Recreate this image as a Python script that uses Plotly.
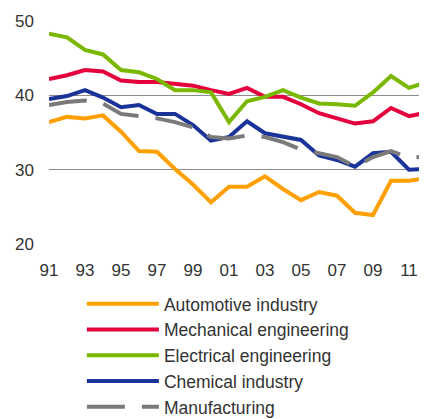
import plotly.graph_objects as go

# Years 1991-2012
years = list(range(1991, 2013))

automotive = [36.4, 37.1, 36.9, 37.3, 35.1, 32.5, 32.4, 30.1, 28.0, 25.6, 27.7,
              27.7, 29.1, 27.4, 25.9, 27.0, 26.5, 24.2, 23.9, 28.5, 28.5, 28.9]
mechanical = [42.2, 42.7, 43.4, 43.2, 42.0, 41.8, 41.8, 41.6, 41.3, 40.7, 40.2,
              41.0, 39.8, 39.8, 38.8, 37.6, 36.9, 36.2, 36.5, 38.3, 37.2, 37.7]
electrical = [48.3, 47.8, 46.1, 45.5, 43.4, 43.1, 42.2, 40.7, 40.7, 40.4, 36.4,
              39.2, 39.8, 40.7, 39.7, 38.9, 38.8, 38.6, 40.4, 42.6, 41.0, 41.8]
chemical = [39.5, 39.9, 40.7, 39.7, 38.4, 38.7, 37.5, 37.5, 36.0, 33.9, 34.4,
            36.5, 34.9, 34.5, 34.0, 31.9, 31.3, 30.4, 32.2, 32.4, 30.0, 30.1]
manufacturing = [38.7, 39.1, 39.3, 38.9, 37.5, 37.2, 36.9, 36.4, 35.7, 34.4, 34.2,
                 34.6, 34.4, 33.7, 32.7, 32.2, 31.7, 30.4, 31.7, 32.5, 31.6, 31.8]

tick_years = list(range(1991, 2012, 2))
tick_text = [str(y)[2:] for y in tick_years]

series = [
    ("Automotive industry", automotive, "#FFA000", "solid"),
    ("Mechanical engineering", mechanical, "#E4003C", "solid"),
    ("Electrical engineering", electrical, "#7AB800", "solid"),
    ("Chemical industry", chemical, "#1A3399", "solid"),
    ("Manufacturing", manufacturing, "#7A7A7A", "38px,17px"),
]

fig = go.Figure()
for name, vals, color, dash in series:
    fig.add_trace(go.Scatter(x=years, y=vals, name=name, mode="lines",
                             line=dict(color=color, width=4, dash=dash)))

# page body has an 8px margin, so the figure is a bit smaller than the window
fig.update_layout(
    width=419, height=411,
    margin=dict(l=41, r=0, t=13, b=175, autoexpand=False),
    paper_bgcolor="white", plot_bgcolor="white",
    font=dict(family="Liberation Sans, Arial, sans-serif", size=17, color="#333333"),
    showlegend=True,
    legend=dict(orientation="v", x=0.087, xanchor="left", y=-0.188, yanchor="top",
                itemwidth=72, tracegroupgap=0, font=dict(size=17.5)),
)
fig.update_xaxes(range=[1991, 2012], tickvals=tick_years, ticktext=tick_text,
                 showgrid=False, zeroline=False, showline=False,
                 ticks="", ticklabelstandoff=14)
fig.update_yaxes(range=[20, 50], tickvals=[20, 30, 40, 50],
                 showgrid=True, gridcolor="#8C8C8C", gridwidth=1,
                 zeroline=False, showline=False, ticks="", ticklabelstandoff=14)

fig.write_html("out.html")
